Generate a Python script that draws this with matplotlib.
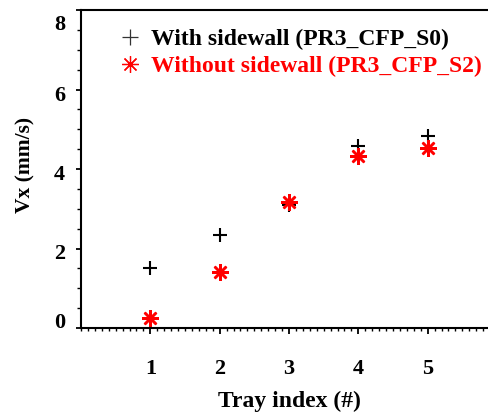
import matplotlib
matplotlib.use("Agg")
import matplotlib.pyplot as plt
from matplotlib.lines import Line2D
from matplotlib.ticker import MultipleLocator
from matplotlib.transforms import ScaledTranslation

tray = [1, 2, 3, 4, 5]
with_sidewall = [1.52, 2.34, 3.10, 4.57, 4.82]
without_sidewall = [0.25, 1.40, 3.16, 4.32, 4.53]
yticks = [0, 2, 4, 6, 8]
label_with = "With sidewall (PR3_CFP_S0)"
label_without = "Without sidewall (PR3_CFP_S2)"

plt.rcParams['font.family'] = ['Liberation Serif', 'DejaVu Serif']
plt.rcParams['font.weight'] = 'bold'

W, H = 488, 416
fig = plt.figure(figsize=(W / 100, H / 100), dpi=100)
ax = fig.add_axes([81 / W, 1 - 328 / H, (497 - 81) / W, (328 - 10) / H])

ax.plot(tray, with_sidewall, linestyle='none', marker='+', color='black',
        markersize=10, markeredgewidth=1.5)
ax.plot(tray, without_sidewall, linestyle='none', marker=(8, 2, 0), color='#ff0000',
        markersize=12, markeredgewidth=1.8)

ax.set_xlim(0, 6)
ax.set_ylim(0, 8)
ax.set_xticks(tray)
ax.set_xticklabels([str(t) for t in tray])
ax.xaxis.set_minor_locator(MultipleLocator(0.1))
ax.set_yticks(yticks)
ax.set_yticklabels([str(t) for t in yticks])
ax.yaxis.set_minor_locator(MultipleLocator(0.5))

for s in ['top', 'left', 'bottom', 'right']:
    ax.spines[s].set_linewidth(1.5)

ax.tick_params(axis='x', which='major', direction='out', length=4, width=1.3,
               pad=18, labelsize=16, top=False)
ax.tick_params(axis='x', which='minor', direction='out', length=2, width=1.0, top=False)
ax.tick_params(axis='y', which='major', direction='out', length=3.5, width=1.3,
               pad=8, labelsize=16, right=False)
ax.tick_params(axis='y', which='minor', direction='out', length=3, width=1.0, right=False)
for lab in ax.get_xticklabels() + ax.get_yticklabels():
    lab.set_fontweight('bold')

# small vertical label offsets (pixels, positive = down) as in the reference
label_shift_px = [-7, 3, 3, 4, 12]
for tick, dy in zip(ax.yaxis.get_major_ticks(), label_shift_px):
    off = ScaledTranslation(0, -dy / 100, fig.dpi_scale_trans)
    tick.label1.set_transform(tick.label1.get_transform() + off)

ax.set_xlabel("Tray index (#)", fontsize=17, fontweight='bold')
ax.xaxis.set_label_coords((289 - 81) / (497 - 81), -(391 - 328) / (328 - 10))
ax.set_ylabel("Vx (mm/s)", fontsize=15.5, fontweight='bold')
ax.yaxis.set_label_coords(-(81 - 35) / (497 - 81), (328 - 165) / (328 - 10))

handles = [
    Line2D([], [], linestyle='none', marker='+', color='#333333', markersize=12,
           markeredgewidth=0.9),
    Line2D([], [], linestyle='none', marker=(8, 2, 0), color='#ff0000', markersize=12,
           markeredgewidth=0.9),
]
leg = ax.legend(handles, [label_with, label_without], loc='upper left',
                bbox_to_anchor=((118 - 81) / (497 - 81), 1 - (29 - 10) / (328 - 10)),
                frameon=False, prop={'weight': 'bold', 'size': 17},
                handlelength=1.0, handletextpad=0.4, labelspacing=0.2,
                borderaxespad=0, borderpad=0)
leg.get_texts()[0].set_color('black')
leg.get_texts()[1].set_color('#ff0000')

fig.savefig("out.png", dpi=100)
